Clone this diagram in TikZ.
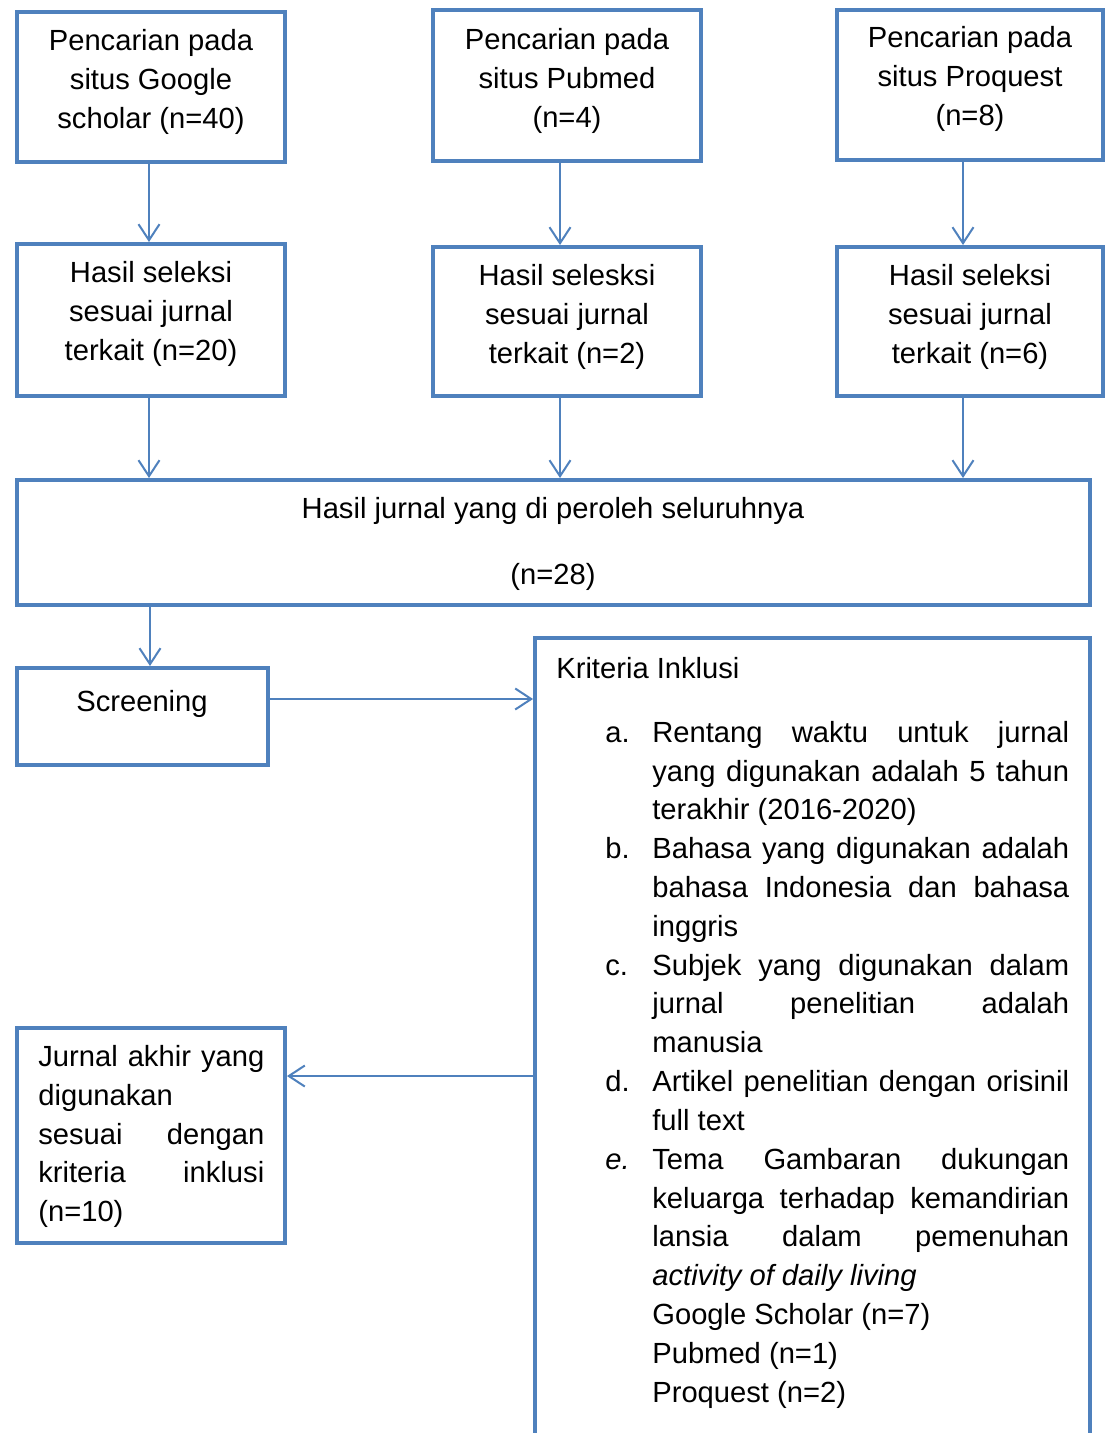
\documentclass[tikz,border=0pt]{standalone}
\usepackage{fontspec}
\setmainfont{Liberation Sans}
\usetikzlibrary{positioning}
\usetikzlibrary{arrows.meta}
\usetikzlibrary{calc}
\definecolor{boxblue}{RGB}{79,129,189}
\tikzstyle{box}=[draw=boxblue, line width=0.08cm, inner sep=0pt]
\tikzstyle{txt}=[align=center, inner sep=0pt]
\tikzstyle{jtxt}=[align=justify, inner sep=0pt, anchor=north west]
\tikzstyle{arr}=[draw=boxblue, line width=0.04cm, -{Straight Barb[length=0.32cm,width=0.42cm]}]
\begin{document}
\begin{tikzpicture}[x=0.02cm, y=-0.02cm, font=\fontsize{16.6}{22.1}\selectfont]

  \clip (0,0) rectangle (1107,1433);
  \fill[white] (0,0) rectangle (1107,1433);

  % search boxes
  \node[box, minimum width=5.36cm, minimum height=3.00cm] (b1) at (151,87) {};
  \node[box, minimum width=5.36cm, minimum height=3.02cm] (b2) at (567,85.5) {};
  \node[box, minimum width=5.32cm, minimum height=3.00cm] (b3) at (970,85) {};
  \node[txt] (b1t) at (151,82) {Pencarian pada\\situs Google\\scholar (n=40)};
  \node[txt] (b2t) at (567,81) {Pencarian pada\\situs Pubmed\\(n=4)};
  \node[txt] (b3t) at (970,79) {Pencarian pada\\situs Proquest\\(n=8)};

  % selection boxes
  \node[box, minimum width=5.36cm, minimum height=3.04cm] (h1) at (151,320) {};
  \node[box, minimum width=5.36cm, minimum height=2.98cm] (h2) at (567,321.5) {};
  \node[box, minimum width=5.32cm, minimum height=2.98cm] (h3) at (970,321.5) {};
  \node[txt] (h1t) at (151,314) {Hasil seleksi\\sesuai jurnal\\terkait (n=20)};
  \node[txt] (h2t) at (567,317) {Hasil selesksi\\sesuai jurnal\\terkait (n=2)};
  \node[txt] (h3t) at (970,317) {Hasil seleksi\\sesuai jurnal\\terkait (n=6)};

  % all results
  \node[box, minimum width=21.46cm, minimum height=2.50cm] (all) at (553.5,542.5) {};
  \node[txt] (allt) at (553,544) {Hasil jurnal yang di peroleh seluruhnya\\[0.54cm](n=28)};

  \node[box, minimum width=5.02cm, minimum height=1.94cm] (scr) at (142.5,716.5) {};
  \node[txt] (scrt) at (142,704) {Screening};

  \node[box, minimum width=11.10cm, minimum height=16.84cm] (krit) at (812.5,1059) {};
  \node[txt, anchor=west] (kritt) at (556,668) {Kriteria Inklusi};
  \node[jtxt, text width=9.28cm] (lst) at (605,703) {\tolerance=9999\hbadness=10000
    \begin{list}{}{\setlength{\leftmargin}{0.94cm}\setlength{\labelwidth}{0.94cm}%
      \setlength{\labelsep}{0pt}\setlength{\itemsep}{0pt}\setlength{\parsep}{0pt}%
      \setlength{\topsep}{0pt}\setlength{\partopsep}{0pt}}
    \item[a.\hfill] Rentang waktu untuk jurnal\linebreak yang digunakan adalah 5 tahun\linebreak terakhir (2016-2020)
    \item[b.\hfill] Bahasa yang digunakan adalah\linebreak bahasa Indonesia dan bahasa\linebreak inggris
    \item[c.\hfill] Subjek yang digunakan dalam\linebreak jurnal penelitian adalah\linebreak manusia
    \item[d.\hfill] Artikel penelitian dengan orisinil\linebreak full text
    \item[\textit{e.}\hfill] Tema Gambaran dukungan\linebreak keluarga terhadap kemandirian\linebreak lansia dalam pemenuhan\linebreak \textit{activity of daily living}\\Google Scholar (n=7)\\Pubmed (n=1)\\Proquest (n=2)
    \end{list}};

  \node[box, minimum width=5.36cm, minimum height=4.30cm] (akhir) at (151,1135.5) {};
  \node[jtxt, text width=4.52cm] (akhirt) at (38,1045) {\tolerance=9999\hbadness=10000
    Jurnal akhir yang\linebreak digunakan\linebreak sesuai dengan\linebreak kriteria inklusi\linebreak (n=10)};

  % arrows
  \foreach \a/\b/\d in {b1/h1/-2, b2/h2/-7, b3/h3/-7}
    \draw[arr] ($(\a.south)+(\d,0)$) -- ($(\b.north)+(\d,0)$);
  \foreach \a/\d in {h1/-2, h2/-7, h3/-7}
    \draw[arr] ($(\a.south)+(\d,0)$) coordinate (tmp) -- (tmp |- all.north);
  \draw[arr] ($(all.south)+(-403.5,0)$) coordinate (a1) -- (a1 |- scr.north);
  \path (scr.north east) ++(0,33) coordinate (sa);
  \draw[arr] (sa) -- (krit.west |- sa);
  \path (akhir.north east) ++(0,50) coordinate (ka);
  \draw[arr] (krit.west |- ka) -- (ka);

\end{tikzpicture}
\end{document}
